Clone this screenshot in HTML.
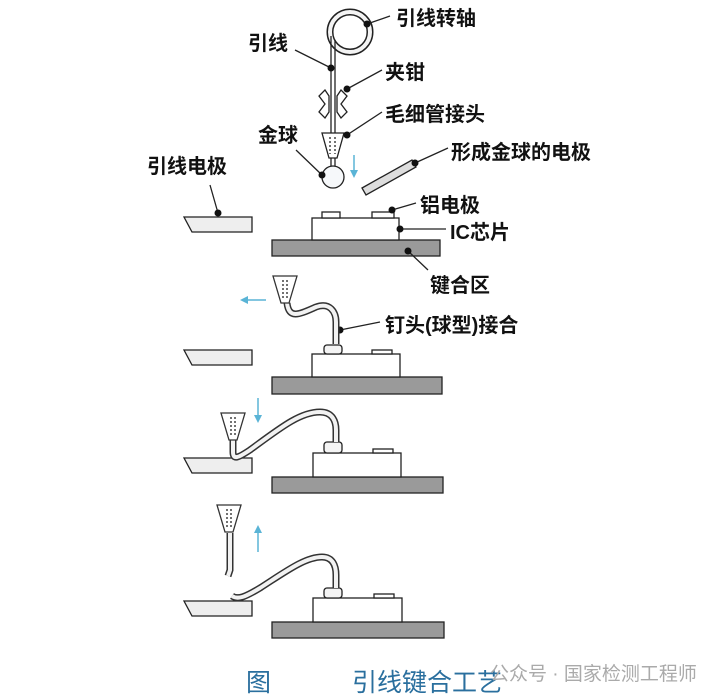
<!DOCTYPE html>
<html><head><meta charset="utf-8"><style>
html,body{margin:0;padding:0;background:#fff;}
svg{display:block;}
text{font-family:"Liberation Sans","Noto Sans CJK SC",sans-serif;fill:#111;font-weight:bold;}
</style></head><body>
<svg width="707" height="699" viewBox="0 0 707 699" xmlns="http://www.w3.org/2000/svg">
<defs>
<marker id="ah" markerWidth="8" markerHeight="8" refX="4" refY="4" orient="auto" markerUnits="userSpaceOnUse">
<path d="M0,0 L8,4 L0,8 Z" fill="#5ab4d6"/></marker>
<g id="cap">
<path d="M-12,0 L12,0 L4,27 L-4,27 Z" fill="#fff" stroke="#333" stroke-width="1.3"/>
<path d="M-2,4 V22 M2,4 V22" stroke="#444" stroke-width="1.5" stroke-dasharray="2,2"/>
</g>
</defs>
<g stroke="#222" stroke-width="1.3">
<!-- Stage 1 -->
<circle cx="350" cy="32" r="20" fill="none" stroke-width="7"/>
<circle cx="350" cy="32" r="20" fill="none" stroke="#f4f4f4" stroke-width="4"/>
<path d="M331,36 V135 M335,40 V135" fill="none"/>
<path d="M325,90 L319,96 L325,104 L319,112 L325,118 L329,112 L329,96 Z M341,90 L347,96 L341,104 L347,112 L341,118 L337,112 L337,96 Z" fill="#fff"/>
<path d="M322,133 L344,133 L337,158 L329,158 Z" fill="#fff"/>
<path d="M330,137 V154 M335,137 V154" stroke="#444" stroke-width="1.5" stroke-dasharray="2,2"/>
<path d="M331,158 V166 M335,158 V166" />
<circle cx="333" cy="177" r="11" fill="#f6f8fa"/>
<path d="M362,188 L412,160 L416,167 L366,195 Z" fill="#ddd"/>
<path d="M184,217 H252 V232 H192 Z" fill="#eee"/>
<rect x="272" y="240" width="168" height="16" fill="#9a9a9a"/>
<rect x="312" y="218" width="87" height="22" fill="#fff"/>
<rect x="322" y="212" width="18" height="6" fill="#fff"/>
<rect x="372" y="212" width="22" height="6" fill="#fff"/>
<!-- leader lines -->
<path d="M367,24 L390,16 M295,50 L331,68 M347,89 L382,70 M347,135 L382,112 M322,175 L296,150 M415,163 L448,148 M210,185 L218,213 M392,210 L416,203 M400,229 L446,229 M408,251 L428,270 M340,330 L380,322" fill="none"/>
</g>
<g fill="#111">
<circle cx="367" cy="24" r="3.5"/><circle cx="331" cy="68" r="3.5"/><circle cx="347" cy="89" r="3.5"/>
<circle cx="347" cy="135" r="3.5"/><circle cx="322" cy="175" r="3.5"/><circle cx="415" cy="163" r="3.5"/>
<circle cx="218" cy="213" r="3.5"/><circle cx="392" cy="210" r="3.5"/><circle cx="400" cy="229" r="3.5"/>
<circle cx="408" cy="251" r="3.5"/><circle cx="340" cy="330" r="3.5"/>
</g>
<g stroke="#5ab4d6" stroke-width="1.5" fill="none">
<path d="M354,155 V174" marker-end="url(#ah)"/>
<path d="M266,300 H244" marker-end="url(#ah)"/>
<path d="M258,398 V419" marker-end="url(#ah)"/>
<path d="M258,552 V529" marker-end="url(#ah)"/>
</g>
<!-- Stage 2 -->
<g stroke="#222" stroke-width="1.3">
<path d="M184,350 H252 V365 H192 Z" fill="#eee"/>
<rect x="272" y="377" width="170" height="17" fill="#9a9a9a"/>
<rect x="312" y="354" width="88" height="23" fill="#fff"/>
<rect x="372" y="350" width="20" height="4" fill="#fff"/>
<rect x="324" y="345" width="18" height="9" rx="3" fill="#f4f4f4"/>
</g>
<path d="M287,303 C289,320 300,314 316,307 C330,302 336,312 336,322 V344" fill="none" stroke="#333" stroke-width="7"/>
<path d="M287,303 C289,320 300,314 316,307 C330,302 336,312 336,322 V344" fill="none" stroke="#f2f2f2" stroke-width="4"/>
<use href="#cap" x="285" y="276"/>
<!-- Stage 3 -->
<g stroke="#222" stroke-width="1.3">
<path d="M184,458 H252 V473 H192 Z" fill="#eee"/>
<rect x="272" y="477" width="171" height="16" fill="#9a9a9a"/>
<rect x="313" y="453" width="88" height="24" fill="#fff"/>
<rect x="373" y="449" width="20" height="4" fill="#fff"/>
<rect x="324" y="442" width="18" height="11" rx="3" fill="#f4f4f4"/>
</g>
<path d="M233,440 V452 C233,460 238,458 250,450 C280,428 300,412 320,412 C333,412 336,422 336,430 V442" fill="none" stroke="#333" stroke-width="7"/>
<path d="M233,440 V452 C233,460 238,458 250,450 C280,428 300,412 320,412 C333,412 336,422 336,430 V442" fill="none" stroke="#f2f2f2" stroke-width="4"/>
<use href="#cap" x="233" y="413"/>
<!-- Stage 4 -->
<g stroke="#222" stroke-width="1.3">
<path d="M184,601 H252 V616 H192 Z" fill="#eee"/>
<rect x="272" y="622" width="172" height="16" fill="#9a9a9a"/>
<rect x="313" y="598" width="89" height="24" fill="#fff"/>
<rect x="374" y="594" width="20" height="4" fill="#fff"/>
<rect x="324" y="588" width="18" height="10" rx="3" fill="#f4f4f4"/>
</g>
<path d="M232,596 C238,600 245,597 260,588 C285,572 305,557 322,557 C333,557 336,566 336,575 V588" fill="none" stroke="#333" stroke-width="7"/>
<path d="M232,596 C238,600 245,597 260,588 C285,572 305,557 322,557 C333,557 336,566 336,575 V588" fill="none" stroke="#f2f2f2" stroke-width="4"/>
<path d="M230,533 V570 L228,576" fill="none" stroke="#333" stroke-width="7"/>
<path d="M230,533 V570 L228,576" fill="none" stroke="#f2f2f2" stroke-width="4"/>
<use href="#cap" x="229" y="505"/>
<!-- labels -->
<g font-size="20">
<text x="396" y="25">引线转轴</text>
<text x="248" y="50">引线</text>
<text x="385" y="79">夹钳</text>
<text x="385" y="121">毛细管接头</text>
<text x="258" y="142">金球</text>
<text x="451" y="159">形成金球的电极</text>
<text x="147" y="173">引线电极</text>
<text x="420" y="212">铝电极</text>
<text x="450" y="239">IC芯片</text>
<text x="430" y="292">键合区</text>
<text x="385" y="332">钉头(球型)接合</text>
</g>
<text x="246" y="691" font-size="25" style="fill:#2a6f9e;font-weight:normal">图</text>
<text x="352" y="691" font-size="25" style="fill:#2a6f9e;font-weight:normal">引线键合工艺</text>
<text x="490" y="680" font-size="19" style="fill:#aaa;font-weight:normal">公众号 · 国家检测工程师</text>
</svg>
</body></html>
